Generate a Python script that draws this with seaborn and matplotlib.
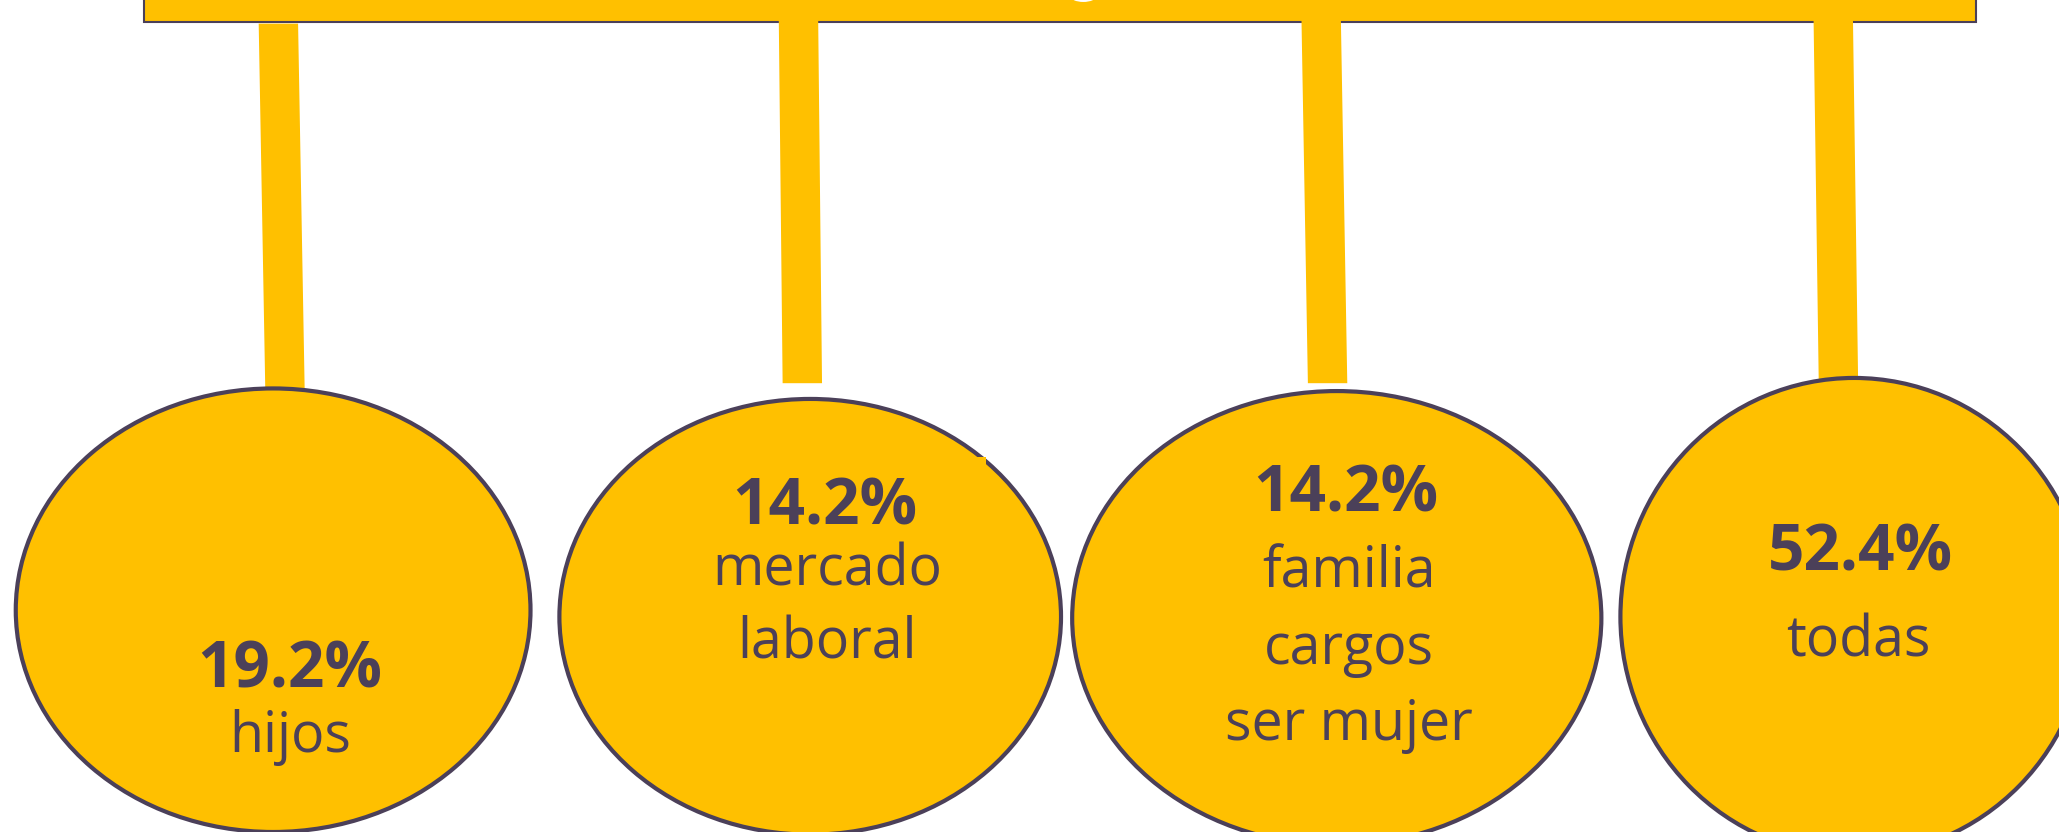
import matplotlib
matplotlib.use("Agg")
import matplotlib.pyplot as plt
from matplotlib import patches
import seaborn as sns

# data
values = ["19.2%", "14.2%", "14.2%", "52.4%"]
labels = [["hijos"], ["mercado", "laboral"], ["familia", "cargos", "ser mujer"], ["todas"]]

# layout (in reference pixel space, 1568 x 634)
ell_cx = [208, 617, 1018, 1412]
ell_cy = [465, 470, 471, 470]
ell_w = [392, 382, 403, 356]
ell_h = [338, 332, 346, 364]
stem_top = [(197, 18), (593, 8), (991, 8), (1381, 8)]
stem_bot = [(202, 296), (596, 292), (996, 292), (1385, 289)]
stem_w = 30
val_xy = [(221, 511), (628, 387), (1025, 377), (1417, 422)]
lab_x = [221, 630, 1027, 1415]
lab_y0 = [562, 435, 437, 489]
line_gap = [58, 56, 58, 58]

yellow = "#FFC000"
dark = "#4B4059"

sns.set_theme(style="white")
plt.rcParams["font.family"] = ["Open Sans", "DejaVu Sans"]

fig = plt.figure(figsize=(20.59, 8.32), dpi=100)
ax = fig.add_axes([0, 0, 1, 1])
ax.set_xlim(0, 1568)
ax.set_ylim(634, 0)
ax.axis("off")

# top banner (title text cut off above, only a sliver visible)
ax.add_patch(patches.Rectangle((110, -20), 1395, 37, facecolor=yellow,
                               edgecolor=dark, linewidth=1.5, zorder=1))
ax.add_patch(patches.Ellipse((825, -3), 20, 9, facecolor="white", edgecolor="none", zorder=1.5))

# stems
for (tx, ty), (bx, by) in zip(stem_top, stem_bot):
    ax.add_patch(patches.Polygon([(tx, ty), (tx + stem_w, ty), (bx + stem_w, by), (bx, by)],
                                 closed=True, facecolor=yellow, edgecolor="none", zorder=2))

# bubbles
for cx, cy, w, h in zip(ell_cx, ell_cy, ell_w, ell_h):
    ax.add_patch(patches.Ellipse((cx, cy), w, h, facecolor=yellow,
                                 edgecolor=dark, linewidth=3, zorder=3))
ax.add_patch(patches.Rectangle((743, 348), 8, 8, facecolor=yellow, edgecolor="none", zorder=4))

# texts
for i, v in enumerate(values):
    ax.text(val_xy[i][0], val_xy[i][1], v, ha="center", va="center",
            fontsize=46, fontweight="bold", color=dark, zorder=5)
    for j, lab in enumerate(labels[i]):
        ax.text(lab_x[i], lab_y0[i] + j * line_gap[i], lab, ha="center", va="center",
                fontsize=40, color=dark, zorder=5)

fig.savefig("out.png", dpi=100, facecolor="white")
